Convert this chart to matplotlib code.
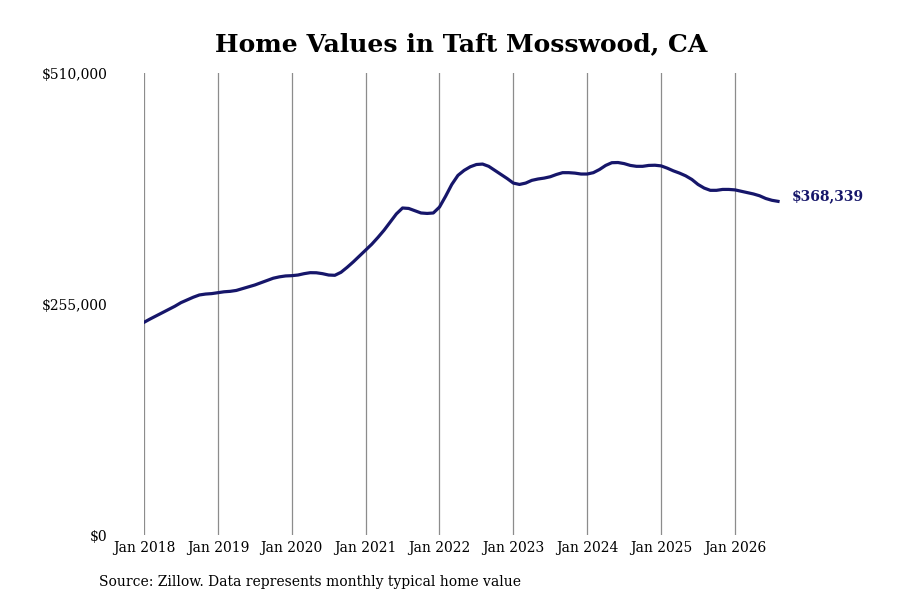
import numpy as np
import matplotlib
matplotlib.use("Agg")
import matplotlib.pyplot as plt

# monthly typical home value, Jan 2018 .. Aug 2026
values = [
    234800, 238500, 242000, 245500, 249000, 252500, 256500, 259500, 262500, 265000, 266000, 266500,  # 2018
    267500, 268500, 269000, 270000, 272000, 274000, 276000, 278500, 281000, 283500, 285000, 286000,  # 2019
    286300, 287000, 288500, 289600, 289500, 288500, 287000, 286700, 290000, 295500, 301500, 308000,  # 2020
    314500, 321000, 328500, 336500, 345500, 354500, 361000, 360500, 358000, 355500, 355000, 355500,  # 2021
    362000, 374000, 387000, 397000, 402500, 406500, 409000, 409500, 407000, 402500, 398000, 393500,  # 2022
    388500, 387000, 388500, 391500, 393000, 394000, 395500, 398000, 400000, 400000, 399500, 398500,  # 2023
    398500, 400000, 403500, 408000, 411000, 411200, 410000, 408000, 407000, 407000, 408000, 408200,  # 2024
    407500, 405000, 402000, 399500, 396500, 392500, 387000, 383000, 380500, 380500, 381500, 381500,  # 2025
    381000, 379500, 378000, 376500, 374500, 371500, 369500, 368339,                                  # 2026
]
tick_labels = ["Jan 2018", "Jan 2019", "Jan 2020", "Jan 2021", "Jan 2022",
               "Jan 2023", "Jan 2024", "Jan 2025", "Jan 2026"]
y_ticks = [0, 255000, 510000]
y_labels = ["$0", "$255,000", "$510,000"]

plt.rcParams['font.family'] = 'DejaVu Serif'
line_color = "#16166a"

fig = plt.figure(figsize=(9, 6), dpi=100)
ax = fig.add_axes([0.16, 0.1083, 0.725, 0.77])

months = np.arange(len(values))
ax.plot(months, values, color=line_color, linewidth=2.3)

ax.set_xlim(0, 106)
ax.set_ylim(0, 510000)
ax.set_xticks(np.arange(0, 12 * len(tick_labels), 12))
ax.set_xticklabels(tick_labels, fontsize=10)
ax.set_yticks(y_ticks)
ax.set_yticklabels(y_labels, fontsize=10)
ax.tick_params(axis='both', length=0)
ax.tick_params(axis='y', pad=26.5)
ax.tick_params(axis='x', pad=4)
ax.grid(axis='x', color='#8c8c8c', linewidth=0.9)
ax.grid(axis='y', visible=False)
for s in ax.spines.values():
    s.set_visible(False)

ax.annotate(f"${values[-1]:,}", xy=(months[-1], values[-1]), xytext=(10, 4),
            textcoords='offset points', fontsize=10, fontweight='bold',
            color=line_color, va='center', ha='left')

fig.text(461 / 900, 1 - 44 / 600, "Home Values in Taft Mosswood, CA",
         ha='center', va='center', fontsize=18, fontweight='bold')
fig.text(99 / 900, 1 - 582 / 600, "Source: Zillow. Data represents monthly typical home value",
         ha='left', va='center', fontsize=10)

fig.savefig("out.png", dpi=100)
